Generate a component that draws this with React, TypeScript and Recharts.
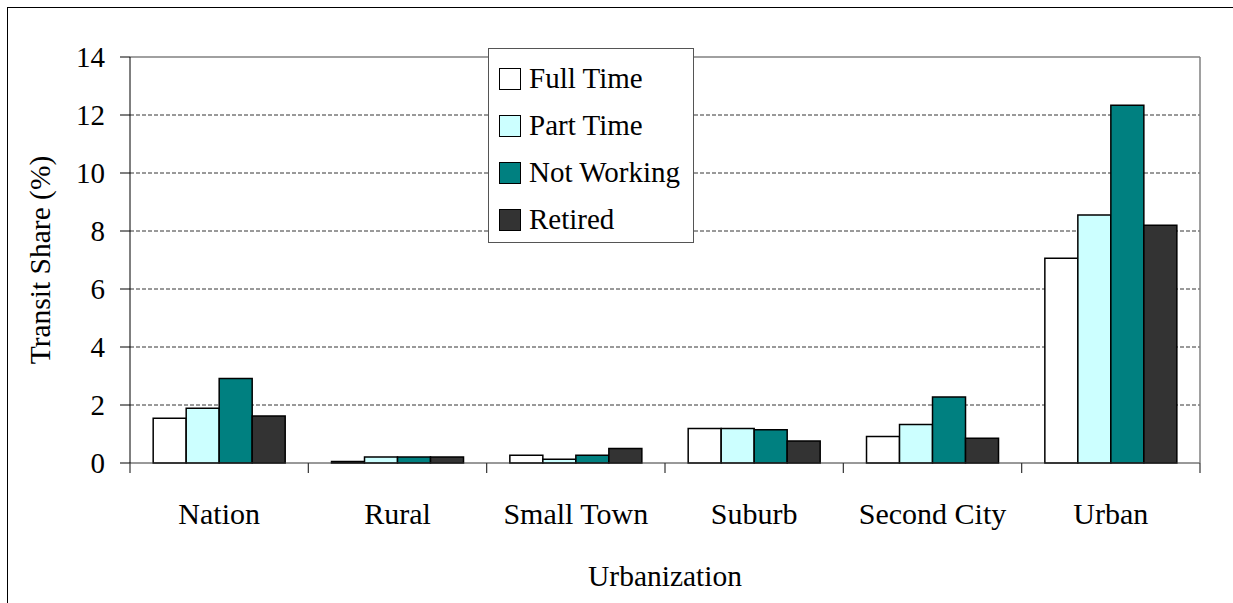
import React from 'react';
import {
  BarChart, Bar, XAxis, YAxis, CartesianGrid, Legend, ReferenceLine
} from 'recharts';

const categories = ['Nation', 'Rural', 'Small Town', 'Suburb', 'Second City', 'Urban'];
const fullTime = [1.54, 0.05, 0.27, 1.19, 0.91, 7.06];
const partTime = [1.89, 0.21, 0.13, 1.19, 1.33, 8.55];
const notWorking = [2.91, 0.21, 0.27, 1.15, 2.28, 12.34];
const retired = [1.62, 0.21, 0.5, 0.76, 0.85, 8.2];
const yTicks = [0, 2, 4, 6, 8, 10, 12, 14];
const gridValues = [2, 4, 6, 8, 10, 12];

const series = [
  { key: 'fullTime', name: 'Full Time', color: '#FFFFFF' },
  { key: 'partTime', name: 'Part Time', color: '#CCFFFF' },
  { key: 'notWorking', name: 'Not Working', color: '#008080' },
  { key: 'retired', name: 'Retired', color: '#333333' },
];

const data = categories.map((name, i) => ({
  name,
  fullTime: fullTime[i],
  partTime: partTime[i],
  notWorking: notWorking[i],
  retired: retired[i],
}));

const FONT = "'Liberation Serif', 'Times New Roman', serif";
const LABEL_GAP = 40;

// legend drawn from the series list so the order stays as in the original
const LegendBox = () => (
  <div style={{
    border: '1px solid #555', background: '#fff', width: 206, height: 195,
    boxSizing: 'border-box', padding: '6px 0 0 10px', fontFamily: FONT,
  }}>
    {series.map(s => (
      <div key={s.key} style={{ display: 'flex', alignItems: 'center', height: 47 }}>
        <span style={{
          display: 'inline-block', width: 20, height: 20, background: s.color,
          border: '1.5px solid #000', marginRight: 8,
        }} />
        <span style={{ fontSize: 29, color: '#000', lineHeight: '29px', fontFamily: FONT }}>{s.name}</span>
      </div>
    ))}
  </div>
);

// category label plus the tick mark on the band edge (Excel style)
const CategoryTick = (props: any) => {
  const { x, y, payload, index, visibleTicksCount } = props;
  const axisY = y - LABEL_GAP;
  const left = payload.coordinate - payload.offset;
  const right = payload.coordinate + payload.offset;
  const last = index === (visibleTicksCount ?? categories.length) - 1;
  return (
    <g>
      <line x1={left} x2={left} y1={axisY} y2={axisY + 10} stroke="#333" strokeWidth={1.2} />
      {last && <line x1={right} x2={right} y1={axisY} y2={axisY + 10} stroke="#333" strokeWidth={1.2} />}
      <text x={x} y={y} dy="0.71em" textAnchor="middle" fill="#000" fontSize={30} fontFamily={FONT}>
        {payload.value}
      </text>
    </g>
  );
};

const App: React.FC = () => {
  return (
    <div style={{ position: 'fixed', left: 0, top: 0, width: 1233, height: 603, overflow: 'hidden', background: '#fff', fontFamily: FONT }}>
      <div style={{ position: 'absolute', left: 7, top: 7, width: 1400, height: 800, border: '1px solid #000' }} />
      <div style={{ position: 'absolute', left: 0, top: 0 }}>
        <BarChart
          width={1233}
          height={603}
          data={data}
          margin={{ top: 57, right: 0, left: 0, bottom: 0 }}
          barCategoryGap="13%"
          barGap={0}
        >
          <CartesianGrid vertical={false} horizontalValues={gridValues} stroke="#000" strokeDasharray="4 2" strokeWidth={0.8} />
          <XAxis
            dataKey="name"
            height={140}
            stroke="#333"
            tickLine={false}
            tickSize={0}
            tickMargin={LABEL_GAP}
            tick={<CategoryTick />}
            interval={0}
            label={{ value: 'Urbanization', position: 'insideBottom', offset: 17, fill: '#000', fontSize: 29.5, fontFamily: FONT }}
          />
          <YAxis
            width={130}
            domain={[0, 14]}
            ticks={yTicks}
            stroke="#000"
            tickSize={10}
            tickMargin={15}
            tick={{ fill: '#000', fontSize: 29, fontFamily: FONT }}
            label={{ value: 'Transit Share (%)', angle: -90, position: 'insideLeft', offset: 40, fill: '#000', fontSize: 29.5, fontFamily: FONT, style: { textAnchor: 'middle' } }}
          />
          <YAxis
            yAxisId="frame"
            orientation="right"
            width={33}
            domain={[0, 14]}
            ticks={yTicks}
            stroke="#808080"
            strokeWidth={1.5}
            tick={false}
            tickLine={false}
          />
          <ReferenceLine y={14} stroke="#808080" strokeWidth={1.5} />
          <Legend
            layout="horizontal"
            verticalAlign="middle"
            align="center"
            wrapperStyle={{ left: 488, top: 48, width: 206, height: 195 }}
            content={<LegendBox />}
          />
          {series.map(s => (
            <Bar
              key={s.key}
              dataKey={s.key}
              name={s.name}
              fill={s.color}
              stroke="#000"
              strokeWidth={1.5}
              isAnimationActive={false}
            />
          ))}
        </BarChart>
      </div>
    </div>
  );
};

export default App;
